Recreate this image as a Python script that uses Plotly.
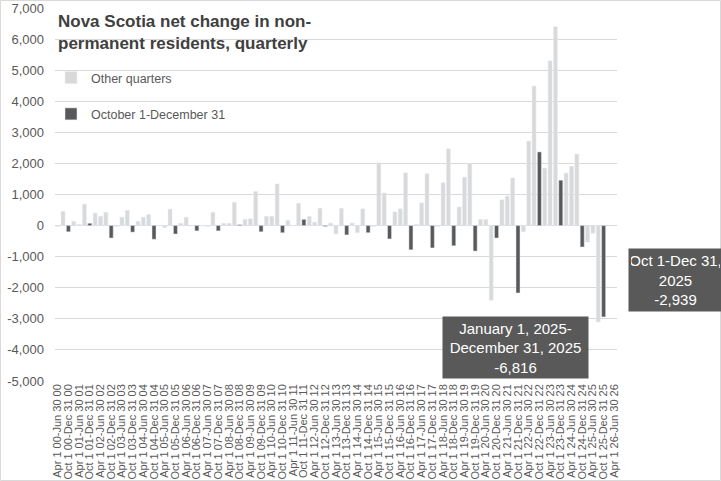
import plotly.graph_objects as go

# ---- data -------------------------------------------------------------
years = list(range(2000, 2027))
quarter_bounds = [("Jan 1", "Mar 31"), ("Apr 1", "Jun 30"),
                  ("Jul 1", "Sep 30"), ("Oct 1", "Dec 31")]

all_quarters = []
for yr in years:
    yy = f"{yr % 100:02d}"
    for a, b in quarter_bounds:
        all_quarters.append(f"{a} {yy}-{b} {yy}")

start = all_quarters.index("Apr 1 00-Jun 30 00")
end = all_quarters.index("Apr 1 26-Jun 30 26")
categories = all_quarters[start:end + 1]

# Net change in non-permanent residents, Apr-Jun 2000 .. Oct-Dec 2025
net_change = [
    -30, 460, -200,              # 2000
    140, 40, 690, 75,            # 2001
    400, 300, 430, -400,         # 2002
    -30, 270, 490, -210,         # 2003
    140, 270, 360, -440,         # 2004
    0, -70, 530, -270,           # 2005
    75, 270, 0, -170,            # 2006
    0, -30, 430, -170,           # 2007
    75, 75, 750, 30,             # 2008
    200, 220, 1100, -200,        # 2009
    300, 300, 1340, -230,        # 2010
    170, 0, 720, 200,            # 2011
    300, 110, 560, -30,          # 2012
    80, -270, 560, -300,         # 2013
    80, -230, 540, -230,         # 2014
    -30, 2020, 1050, -430,       # 2015
    440, 540, 1700, -780,        # 2016
    40, 730, 1670, -720,         # 2017
    -30, 1380, 2470, -650,       # 2018
    600, 1560, 2000, -820,       # 2019
    200, 200, -2400, -400,       # 2020
    830, 950, 1530, -2170,       # 2021
    -200, 2720, 4490, 2370,      # 2022
    1850, 5300, 6400, 1460,      # 2023
    1690, 1910, 2300, -690,      # 2024
    -530, -247, -3100, -2939,    # 2025
]
net_change = net_change + [None] * (len(categories) - len(net_change))

y_tickvals = [-5000, -4000, -3000, -2000, -1000, 0, 1000, 2000, 3000, 4000, 5000, 6000, 7000]
y_ticktext = ["-5,000", "-4,000", "-3,000", "-2,000", "-1,000", "0", "1,000",
              "2,000", "3,000", "4,000", "5,000", "6,000", "7,000"]

x_tickvals = [c for c in categories if c.startswith("Apr") or c.startswith("Oct")]

# split into the two series
other_vals = [v if not c.startswith("Oct") else None for c, v in zip(categories, net_change)]
octdec_vals = [v if c.startswith("Oct") else None for c, v in zip(categories, net_change)]

total_2025 = sum(v for c, v in zip(categories, net_change)
                 if c.endswith(" 25") and v is not None)
last_q = net_change[categories.index("Oct 1 25-Dec 31 25")]

def fmt(v):
    return f"{v:,}"

# ---- layout geometry ----------------------------------------------------
W, H = 721, 481
ML, MR, MT, MB = 55, 104, 8, 100
PW, PH = W - ML - MR, H - MT - MB

def px(x):
    return (x - ML) / PW

def py(y):
    return (H - MB - y) / PH

LIGHT = "#D9D9D9"
DARK = "#595959"
TXT = "#595959"
FONT = "Liberation Sans, Arial, sans-serif"

fig = go.Figure()
fig.add_trace(go.Bar(x=categories, y=other_vals, name="Other quarters",
                     marker_color=LIGHT, legendgroup="a"))
fig.add_trace(go.Bar(x=categories, y=octdec_vals, name="October 1-December 31",
                     marker_color=DARK, legendgroup="b"))

fig.update_layout(
    width=W, height=H,
    margin=dict(l=ML, r=MR, t=MT, b=MB, autoexpand=False),
    paper_bgcolor="white", plot_bgcolor="white",
    barmode="overlay", bargap=0.25,
    font=dict(family=FONT, color=TXT),
    title=dict(text="Nova Scotia net change in non-<br>permanent residents, quarterly",
               font=dict(family=FONT, size=17, color="#404040", weight="bold"),
               x=58 / W, xref="container", xanchor="left",
               y=1 - 27 / H, yref="container", yanchor="top", automargin=False),
    legend=dict(x=px(51), y=py(63), xanchor="left", yanchor="top",
                font=dict(size=12.5, color=TXT), bgcolor="rgba(0,0,0,0)",
                tracegroupgap=17, itemclick=False),
    showlegend=True,
)

fig.update_xaxes(type="category", categoryorder="array", categoryarray=categories,
                 tickmode="array", tickvals=x_tickvals, ticktext=x_tickvals,
                 tickangle=-90, tickfont=dict(size=11, color=TXT),
                 showgrid=False, showline=False, ticks="", automargin=False,
                 range=[-0.5, len(categories) - 0.5])
fig.update_yaxes(range=[-5000, 7000], tickmode="array", tickvals=y_tickvals,
                 ticktext=y_ticktext, tickfont=dict(size=13, color=TXT),
                 showgrid=True, gridcolor=LIGHT, gridwidth=1,
                 zeroline=True, zerolinecolor=LIGHT, zerolinewidth=1,
                 showline=False, ticks="", ticklabelstandoff=10, automargin=False)

fig.add_annotation(
    text=f"January 1, 2025-<br>December 31, 2025<br>{fmt(total_2025)}",
    xref="paper", yref="paper", x=px(515.5), y=py(347.5),
    xanchor="center", yanchor="middle", showarrow=False,
    font=dict(family=FONT, size=15, color="white"),
    bgcolor=DARK, width=141, height=57, borderpad=2, align="center")
fig.add_annotation(
    text=f"Oct 1-Dec 31,<br>2025<br>{fmt(last_q)}",
    xref="paper", yref="paper", x=px(675), y=py(280),
    xanchor="center", yanchor="middle", showarrow=False,
    font=dict(family=FONT, size=15, color="white"),
    bgcolor=DARK, width=89, height=58, borderpad=2, align="center")

# thin chart border
fig.add_shape(type="rect", xref="paper", yref="paper",
              x0=px(0.5), x1=px(720.5), y0=py(480.5), y1=py(0.5),
              line=dict(color=LIGHT, width=1), layer="below")

fig.write_html("out.html",
               config={"displayModeBar": False},
               post_script="document.body.style.margin='0';"
                           "document.body.style.overflow='hidden';")
